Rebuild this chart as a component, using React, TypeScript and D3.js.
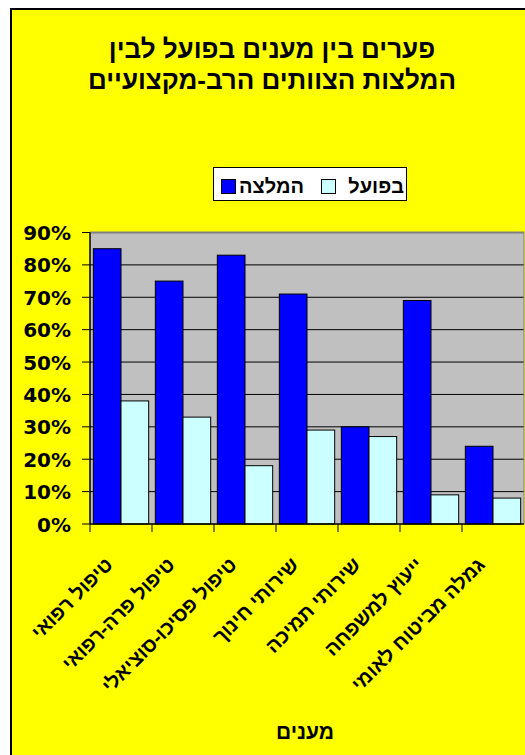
import React from "react";
import * as d3 from "d3";

const categories = [
  "טיפול רפואי",
  "טיפול פרה-רפואי",
  "טיפול פסיכו-סוציאלי",
  "שירותי חינוך",
  "שירותי תמיכה",
  "ייעוץ למשפחה",
  "גמלה מביטוח לאומי",
];
const recommended = [85, 75, 83, 71, 30, 69, 24];
const actual = [38, 33, 18, 29, 27, 9, 8];
const seriesNames = ["המלצה", "בפועל"];
const yTicks = [0, 10, 20, 30, 40, 50, 60, 70, 80, 90];
const titleLines = ["פערים בין מענים בפועל לבין", "המלצות הצוותים הרב-מקצועיים"];
const xTitle = "מענים";

const W = 525;
const H = 755;
const HEB = "'Liberation Sans', Arial, sans-serif";
const NUM = "'DejaVu Sans', sans-serif";
const BLUE = "#0000FF";
const LIGHT = "#CCFFFF";

export default function App() {
  const plot = { left: 90, right: 524, top: 232.5, bottom: 524 };
  const x = d3
    .scaleBand<string>()
    .domain(categories)
    .range([plot.left, plot.right])
    .paddingInner(0)
    .paddingOuter(0);
  const inner = d3
    .scaleBand<string>()
    .domain(["rec", "act"])
    .range([0, x.bandwidth()])
    .paddingInner(0)
    .paddingOuter(0.12);
  const y = d3.scaleLinear().domain([0, 90]).range([plot.bottom, plot.top]);

  return (
    <svg
      width={W}
      height={H}
      style={{ position: "absolute", left: 0, top: 0, display: "block" }}
      fontFamily={HEB}
    >
      <rect x={0} y={0} width={W} height={H} fill="#ffffff" />
      <rect x={11} y={9} width={W + 20} height={H + 20} fill="#FFFF00" stroke="#000" strokeWidth={2} />

      {titleLines.map((t, i) => (
        <text
          key={i}
          x={272}
          y={58 + i * 31}
          textAnchor="middle"
          fontSize={26}
          fontWeight="bold"
          fill="#000"
        >
          {t}
        </text>
      ))}

      {/* legend */}
      <rect x={213.5} y={167.5} width={193} height={33} fill="#fff" stroke="#000" strokeWidth={1} />
      <rect x={221.5} y={179.5} width={14} height={14} fill={BLUE} stroke="#000" strokeWidth={1} />
      <text x={304} y={193} textAnchor="end" fontSize={20} fontWeight="bold">
        {seriesNames[0]}
      </text>
      <rect x={321.5} y={179.5} width={14} height={14} fill={LIGHT} stroke="#000" strokeWidth={1} />
      <text x={404} y={193} textAnchor="end" fontSize={20} fontWeight="bold">
        {seriesNames[1]}
      </text>

      {/* plot area */}
      <rect
        x={plot.left}
        y={plot.top}
        width={plot.right - plot.left}
        height={plot.bottom - plot.top}
        fill="#C0C0C0"
      />
      {yTicks.slice(1, -1).map((v) => (
        <line key={v} x1={plot.left} x2={plot.right} y1={y(v)} y2={y(v)} stroke="#000" strokeWidth={1} />
      ))}
      <line x1={plot.left} x2={plot.right} y1={plot.top} y2={plot.top} stroke="#808080" strokeWidth={2} />
      <line x1={plot.right} x2={plot.right} y1={plot.top} y2={plot.bottom} stroke="#808080" strokeWidth={1} />

      {/* bars */}
      {categories.map((c, i) => (
        <g key={c}>
          <rect
            x={(x(c) as number) + (inner("rec") as number)}
            y={y(recommended[i])}
            width={inner.bandwidth()}
            height={plot.bottom - y(recommended[i])}
            fill={BLUE}
            stroke="#000"
            strokeWidth={1}
          />
          <rect
            x={(x(c) as number) + (inner("act") as number)}
            y={y(actual[i])}
            width={inner.bandwidth()}
            height={plot.bottom - y(actual[i])}
            fill={LIGHT}
            stroke="#000"
            strokeWidth={1}
          />
        </g>
      ))}

      {/* axes */}
      <line x1={plot.left} x2={plot.left} y1={plot.top} y2={plot.bottom} stroke="#000" strokeWidth={1.5} />
      <line x1={plot.left} x2={plot.right} y1={plot.bottom} y2={plot.bottom} stroke="#000" strokeWidth={1.5} />
      {yTicks.map((v) => (
        <g key={v}>
          <line x1={82} x2={plot.left} y1={y(v)} y2={y(v)} stroke="#000" strokeWidth={1} />
          <text
            x={71}
            y={y(v) + 7.5}
            textAnchor="end"
            fontSize={20}
            fontWeight="bold"
            fontFamily={NUM}
          >
            {`${v}%`}
          </text>
        </g>
      ))}
      {categories.map((c) => (
        <line
          key={c}
          x1={x(c) as number}
          x2={x(c) as number}
          y1={plot.bottom}
          y2={plot.bottom + 8}
          stroke="#000"
          strokeWidth={1}
        />
      ))}
      {categories.map((c) => {
        const cx = (x(c) as number) + x.bandwidth() / 2 - 7;
        const cy = 566;
        return (
          <text
            key={c}
            x={cx}
            y={cy}
            transform={`rotate(-45 ${cx} ${cy})`}
            textAnchor="end"
            fontSize={20}
            fontWeight="bold"
          >
            {c}
          </text>
        );
      })}

      <text x={305} y={739} textAnchor="middle" fontSize={21} fontWeight="bold">
        {xTitle}
      </text>
    </svg>
  );
}
